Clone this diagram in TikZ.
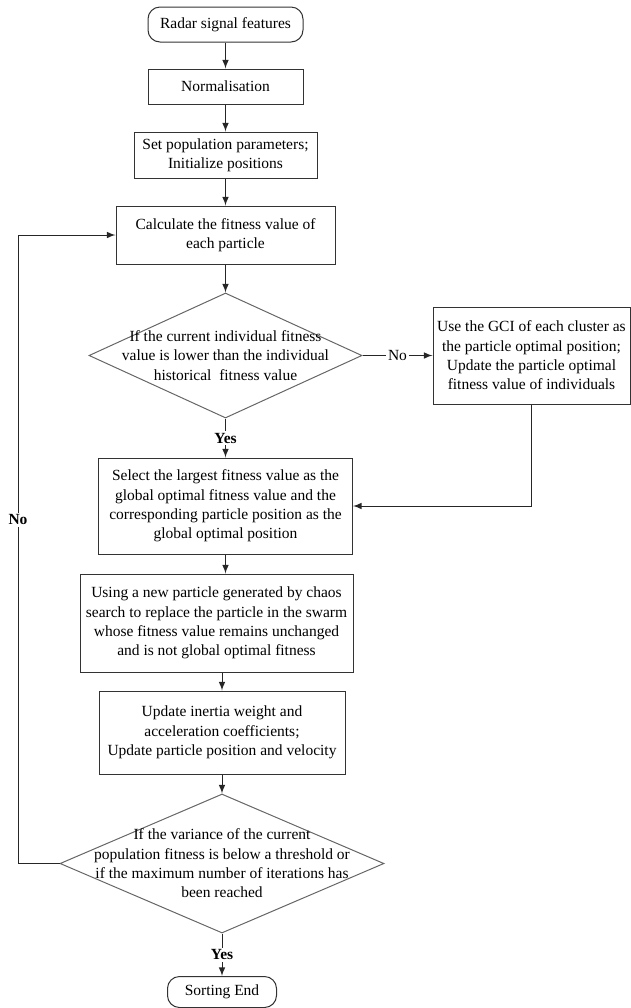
\documentclass[tikz,border=0pt]{standalone}
\usepackage{fontspec}
\setmainfont{Liberation Serif}
\usepackage{tikz}
\usetikzlibrary{shapes}
\tikzset{stepbox/.style={
    draw=black!80,
    rectangle,
    align=center,
    inner sep=1pt}}
\tikzset{termbox/.style={
    draw=black!80,
    rectangle,
    rounded corners=6pt,
    align=center}}
\tikzset{testbox/.style={
    draw=black!60,
    diamond,
    inner sep=0pt}}
\tikzset{flow/.style={
    draw=black!85,
    -latex}}
\tikzset{lbl/.style={
    fill=white,
    inner sep=1pt}}

\begin{document}
\begin{tikzpicture}[x=0.5pt,y=-0.5pt,line width=0.5pt,font=\fontsize{7.75}{9.7}\selectfont]
\useasboundingbox (0,0) rectangle (631,1008);
\coordinate (S) at (225.5,24.5);
\coordinate (N) at (225.5,86.5);
\coordinate (P) at (225.5,155);
\coordinate (F) at (225.5,235);
\coordinate (D) at (225.5,355.5);
\coordinate (U) at (531.5,355.5);
\coordinate (G) at (225.5,506);
\coordinate (C) at (216.5,623);
\coordinate (W) at (222,732.5);
\coordinate (T) at (222,863.5);
\coordinate (E) at (222,992);
\coordinate (loop) at (18,863.5);

\node[termbox,minimum width=77.5pt,minimum height=17.5pt] (start) at (S) {Radar signal features};
\node[stepbox,minimum width=77.5pt,minimum height=17.5pt] (norm) at (N) {Normalisation};
\node[stepbox,minimum width=91.5pt,minimum height=23pt] (setpop) at (P) {Set population parameters;\\ Initialize positions};
\node[stepbox,minimum width=109.5pt,minimum height=29pt] (calc) at (F) {Calculate the fitness value of\\ each particle};

\node[testbox,minimum width=136.5pt,minimum height=62.5pt] (dec1) at (D) {};
\node[align=center] (dec1txt) at (D) {If the current individual fitness\\ value is lower than the individual\\ historical\ \ fitness value};

\node[stepbox,minimum width=98.5pt,minimum height=48.5pt] (upd) at (U) {Use the GCI of each cluster as\\ the particle optimal position;\\ Update the particle optimal\\ fitness value of individuals};
\node[stepbox,minimum width=127pt,minimum height=48pt] (select) at (G) {Select the largest fitness value as the\\ global optimal fitness value and the\\ corresponding particle position as the\\ global optimal position};
\node[stepbox,minimum width=136.5pt,minimum height=49pt] (using) at (C) {Using a new particle generated by chaos\\ search to replace the particle in the swarm\\ whose fitness value remains unchanged\\ and is not global optimal fitness};
\node[stepbox,minimum width=123pt,minimum height=41.5pt] (update) at (W) {Update inertia weight and\\ acceleration coefficients;\\ Update particle position and velocity};

\node[testbox,minimum width=162pt,minimum height=69.5pt] (dec2) at (T) {};
\node[align=center] (dec2txt) at (T) {If the variance of the current\\ population fitness is below a threshold or\\ if the maximum number of iterations has\\ been reached};

\node[termbox,minimum width=54.5pt,minimum height=15.5pt] (end) at (E) {Sorting End};

\path[flow] (start) -- (norm);
\path[flow] (norm) -- (setpop);
\path[flow] (setpop) -- (calc);
\path[flow] (calc) -- (dec1);
\path[flow] (dec1.east) -- node[lbl] {No} (upd.west);
\path[flow] (dec1.south) -- node[lbl] {\textbf{Yes}} (select.north);
\path[flow] (upd.south) |- (select.east);
\path[flow] (select.south) -- (select.south |- using.north);
\path[flow] (update.north |- using.south) -- (update.north);
\path[flow] (update) -- (dec2);
\path[flow] (dec2.south) -- node[lbl] {\textbf{Yes}} (end.north);
\path[draw=black!85] (dec2.west) -- (loop) -- node[lbl,pos=0.547] {\textbf{No}} (loop |- calc.west);
\path[flow] (loop |- calc.west) -- (calc.west);
\end{tikzpicture}
\end{document}
